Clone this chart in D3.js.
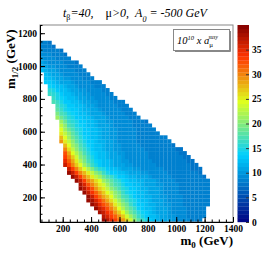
<!DOCTYPE html>
<html>
<head>
<meta charset="utf-8">
<script src="https://cdnjs.cloudflare.com/ajax/libs/d3/7.8.5/d3.min.js"></script>
<style>
  body { margin: 0; background: #fff; }
  svg { display: block; }
  text { font-family: "Liberation Serif", "Times New Roman", serif; white-space: pre; }
</style>
</head>
<body>
<div id="chart"></div>
<script>
// histogram binning: m0 on x, m1/2 on y
var m0Min = 40, m0Max = 1400, m0Bins = 50;
var m12Min = 50, m12Max = 1250, m12Bins = 50;
var zMax = 40, nLevels = 50;

var xTicks = [200, 400, 600, 800, 1000, 1200, 1400];
var yTicks = [200, 400, 600, 800, 1000, 1200];
var zTicks = [0, 5, 10, 15, 20, 25, 30, 35];

// first filled m0 bin of every m1/2 row (row 0 = lowest m1/2)
var rowFirstBin = [16, 16, 15, 14, 13, 12, 12, 11, 10, 10,
                   9, 8, 7, 7, 6, 6, 6, 6, 6, 6,
                   5, 5, 5, 5, 5, 5, 4, 4, 4, 4,
                   3, 3, 2, 2, 2, 1, 1, 1, 0, 0,
                   0, 0, 0, 0, 0, 0];

// 10^10 x a_mu^susy, row by row
var rowValues = [
  [39,37,35,33,31,29,26,23.5,20,18,16,14.5,13,12,11.5,11,11,10.5,10,9.5,9.5,9,9,8.5,8,8],
  [37.5,35.5,33.5,31.5,29,26.5,23.5,21,18.5,16.5,15,13.5,12.5,12,11.5,11,10.5,10,10,9.5,9,9,8.5,8.5,8,8,8],
  [38,36,34,32,29.5,27,24,21.5,19,17.5,15.5,14,13,12,11.5,11,11,10.5,10,9.5,9.5,9,9,8.5,8.5,8,8,8],
  [39,36.5,34.5,32,30,27.5,24.5,22,19.5,18,16,14,13.5,12.5,12,11.5,11,10.5,10.5,10,9.5,9.5,9,9,8.5,8.5,8,8,8],
  [39,37,35,32.5,30.5,28,25.5,23,20.5,18.5,16.5,15,13.5,13,12,11.5,11.5,11,10.5,10,10,9.5,9,9,8.5,8.5,8.5,8,8,8,8],
  [39,38,35.5,33,30.5,28.5,26,23.5,21,19,17,15.5,14.5,13,12.5,12,11.5,11,10.5,10.5,10,9.5,9.5,9,9,8.5,8.5,8.5,8,8,8,8],
  [38.5,36,33.5,31,28.5,26.5,24,21.5,19.5,17.5,16,14.5,13.5,12.5,12,11.5,11.5,11,10.5,10,10,9.5,9,9,9,8.5,8.5,8.5,8,8,8,8],
  [39,36.5,34,31.5,29,26.5,24.5,22.5,20,18.5,16.5,15,14,13,12.5,12,11.5,11,11,10.5,10,9.5,9.5,9,9,8.5,8.5,8.5,8,8,8,8,8],
  [39,37.5,34.5,32,29.5,27,25,23,20.5,19,17,15.5,14.5,13.5,13,12,11.5,11.5,11,10.5,10.5,10,9.5,9.5,9,9,8.5,8.5,8.5,8,8,8,8,8],
  [38,35.5,32.5,30,27.5,25.5,23.5,21,19,17.5,16,15,13.5,13,12.5,12,11.5,11,11,10.5,10,10,9.5,9,9,9,8.5,8.5,8.5,8,8,8,8,8],
  [39,36,33,30,28,26,24,21.5,19.5,18,16.5,15.5,14,13,12.5,12,11.5,11.5,11,10.5,10.5,10,9.5,9.5,9,9,8.5,8.5,8.5,8.5,8,8,8,8,8],
  [39,36,33,30,27.5,25.5,23,21,19,17.5,16,14.5,13.5,13,12,11.5,11.5,11,10.5,10.5,10,9.5,9.5,9,9,9,8.5,8.5,8.5,8.5,8,8,8,8,7.5],
  [39,36,33,30,27.5,25,22.5,20,18.5,16.5,15,13.5,13,12.5,12,11.5,11,10.5,10.5,10,10,9.5,9.5,9,9,9,8.5,8.5,8.5,8.5,8,8,8,8,7.5],
  [36,33,30,27,24.5,22,19.5,17.5,15.5,14.5,13,12.5,12,11.5,11,10.5,10.5,10,10,9.5,9.5,9,9,9,9,8.5,8.5,8.5,8.5,8,8,8,7.5,7.5,7.5],
  [36,33,30,27,24,21,18.5,16.5,15,13.5,12.5,12,11.5,11,11,10.5,10,10,9.5,9.5,9,9,9,9,8.5,8.5,8.5,8.5,8,8,8,8,8,7.5,7.5],
  [35,31.5,28.5,25,22,19.5,17.5,15.5,14,13,12.5,12,11.5,11,10.5,10,10,9.5,9.5,9,9,9,9,8.5,8.5,8.5,8.5,8,8,8,8,8,7.5,7.5],
  [33.5,30,26.5,23.5,20.5,18.5,16.5,15,13.5,12.5,12,11.5,11,10.5,10.5,10,9.5,9.5,9.5,9,9,9,8.5,8.5,8.5,8.5,8.5,8,8,8,8,7.5,7.5],
  [32,28,24.5,22,19.5,17.5,15.5,14,13,12.5,12,11.5,11,10.5,10,10,9.5,9.5,9,9,9,9,8.5,8.5,8.5,8.5,8,8,8,8,7.5,7.5],
  [30,26,23,20.5,18,16.5,15,13.5,12.5,12,11.5,11,10.5,10,10,9.5,9.5,9,9,9,9,8.5,8.5,8.5,8.5,8.5,8,8,8,7.5,7.5],
  [27.5,24,21.5,19.5,17.5,15.5,14,13,12.5,12,11.5,11,10.5,10,10,9.5,9.5,9,9,9,8.5,8.5,8.5,8.5,8,8,8,8,7.5],
  [29.5,25.5,23,20.5,18,16.5,15,13.5,13,12.5,11.5,11.5,11,10.5,10,9.5,9.5,9,9,9,8.5,8.5,8.5,8.5,8,8,8,8,8],
  [27.5,24,21.5,19,17,15.5,14,13.5,12.5,12,11.5,11,10.5,10,10,9.5,9.5,9,9,9,8.5,8.5,8.5,8,8,8,8,8],
  [25.5,22.5,20,18,16,15,13.5,13,12.5,12,11.5,11,10.5,10,10,9.5,9.5,9,9,9,8.5,8.5,8.5,8,8,8],
  [24,21.5,19,17,15.5,14.5,13.5,13,12.5,12,11.5,11,10.5,10,10,9.5,9.5,9,9,9,8.5,8.5,8,8,8],
  [22.5,20,17.5,16,15,14,13,12.5,12,11.5,11,11,10.5,10,9.5,9.5,9.5,9,9,8.5,8.5,8,8,8],
  [21,19,16.5,15.5,14.5,13.5,13,12.5,12,11.5,11,10.5,10,10,9.5,9.5,9.5,9,9,8.5,8.5,8,7.5],
  [21,19,17,15.5,14.5,13.5,13,12.5,12,11.5,11,10.5,10.5,10,9.5,9.5,9.5,9,9,8.5,8,8],
  [19.5,17.5,16,15,14,13,12.5,12,11.5,11,11,10.5,10,9.5,9.5,9.5,9,9,8.5,8,8],
  [18,16.5,15,14,13.5,13,12,11.5,11.5,11,10.5,10,9.5,9.5,9.5,9,9,8.5,8,8],
  [17,15.5,14.5,13.5,13,12.5,12,11.5,11,10.5,10,9.5,9.5,9.5,9,9,8.5,8,8],
  [17,16,15,13.5,13,12.5,12,11.5,11,10.5,10,10,9.5,9.5,9,9,8.5,8,8],
  [16,15,14,13,12.5,12,11.5,11,10.5,10,10,9.5,9.5,9,9,8.5,8],
  [16.5,15.5,14.5,13.5,12.5,12,11.5,11,10.5,10,10,9.5,9.5,9,9,8.5,8],
  [15.5,14.5,13.5,12.5,12,11.5,11,10.5,10,10,9.5,9.5,9,9,8.5,8],
  [14,13,12.5,12,11.5,11,10.5,10,9.5,9.5,9.5,9,8.5,8.5,8],
  [13.5,13,12.5,11.5,11,11,10.5,10,9.5,9.5,9,9,8.5,8,8],
  [12.5,12,11.5,11,10.5,10,10,9.5,9.5,9,8.5,8.5,8],
  [12,11.5,11,10.5,10,9.5,9.5,9,9,8.5,8.5,8],
  [12,11.5,11,10.5,10,9.5,9.5,9,9,8.5,8,8],
  [11,10.5,10,10,9.5,9,9,8.5,8.5,8,8],
  [10.5,10,9.5,9.5,9,9,8.5,8.5,8,7.5],
  [10,9.5,9,9,8.5,8.5,8,8],
  [9.5,9,9,8.5,8.5,8,7.5],
  [9,8.5,8.5,8,8,7.5],
  [8.5,8,8,7.5],
  [8,8,7.5]
];

var svgWidth = 266, svgHeight = 253;
var frame = { left: 40, right: 233, top: 25, bottom: 222 };
var bar = { left: 237.5, right: 249 };

var svg = d3.select("#chart").append("svg")
  .attr("width", svgWidth)
  .attr("height", svgHeight);

var x = d3.scaleLinear().domain([m0Min, m0Max]).range([frame.left, frame.right]);
var y = d3.scaleLinear().domain([m12Min, m12Max]).range([frame.bottom, frame.top]);
var z = d3.scaleLinear().domain([0, zMax]).range([frame.bottom, frame.top]);

// ROOT style gradient palette
var grad = d3.scaleLinear()
  .domain([0, 0.34, 0.61, 0.84, 1.0])
  .range(["rgb(0,0,130)", "rgb(0,207,255)", "rgb(222,255,31)", "rgb(255,51,0)", "rgb(130,0,0)"])
  .interpolate(d3.interpolateRgb);

function levelColor(v) {
  var k = Math.max(0, Math.min(nLevels - 1, Math.floor(v / zMax * nLevels)));
  return grad((k + 0.5) / nLevels);
}

var dx = (m0Max - m0Min) / m0Bins;
var dy = (m12Max - m12Min) / m12Bins;

var cells = [];
rowValues.forEach(function(row, j) {
  row.forEach(function(v, k) {
    var i = rowFirstBin[j] + k;
    cells.push({ m0: m0Min + i * dx, m12: m12Min + j * dy, v: v });
  });
});

svg.append("g").selectAll("rect")
  .data(cells)
  .enter()
  .append("rect")
  .attr("x", d => x(d.m0))
  .attr("y", d => y(d.m12 + dy))
  .attr("width", d => x(d.m0 + dx) - x(d.m0) + 0.15)
  .attr("height", d => y(d.m12) - y(d.m12 + dy) + 0.15)
  .attr("fill", d => levelColor(d.v));

// frame
svg.append("rect")
  .attr("x", frame.left).attr("y", frame.top)
  .attr("width", frame.right - frame.left).attr("height", frame.bottom - frame.top)
  .attr("fill", "none").attr("stroke", "#888").attr("stroke-width", 1);

// axes (ticks point inside the frame)
var xMinor = d3.range(50, 1401, 50);
var yMinor = d3.range(50, 1251, 50);
var fmt = d3.format("d");

svg.append("g")
  .attr("transform", `translate(0, ${frame.bottom})`)
  .call(d3.axisBottom(x).tickValues(xMinor).tickSize(-2.5).tickFormat(""))
  .call(g => g.select(".domain").remove());
var xAxis = svg.append("g")
  .attr("transform", `translate(0, ${frame.bottom})`)
  .call(d3.axisBottom(x).tickValues(xTicks).tickSize(-5).tickPadding(3).tickSizeOuter(0).tickFormat(fmt));

svg.append("g")
  .attr("transform", `translate(${frame.left}, 0)`)
  .call(d3.axisLeft(y).tickValues(yMinor).tickSize(-2.5).tickFormat(""))
  .call(g => g.select(".domain").remove());
var yAxis = svg.append("g")
  .attr("transform", `translate(${frame.left}, 0)`)
  .call(d3.axisLeft(y).tickValues(yTicks).tickSize(-5).tickPadding(3).tickSizeOuter(0).tickFormat(fmt));

[xAxis, yAxis].forEach(function(g) {
  g.selectAll("text")
    .attr("font-family", "Liberation Serif, serif")
    .attr("font-size", 9.5)
    .attr("font-weight", "bold")
    .attr("fill", "#000");
  g.selectAll("line").attr("stroke", "#000");
  g.select(".domain").attr("stroke", "#000");
});

// colour bar
var levels = d3.range(nLevels);
svg.append("g").selectAll("rect")
  .data(levels)
  .enter()
  .append("rect")
  .attr("x", bar.left)
  .attr("y", k => z((k + 1) * zMax / nLevels))
  .attr("width", bar.right - bar.left)
  .attr("height", k => z(k * zMax / nLevels) - z((k + 1) * zMax / nLevels) + 0.2)
  .attr("fill", k => grad((k + 0.5) / nLevels));

var zAxis = svg.append("g")
  .attr("transform", `translate(${bar.right}, 0)`)
  .call(d3.axisRight(z).tickValues(zTicks).tickSize(-3).tickPadding(3).tickSizeOuter(0));
zAxis.select(".domain").remove();
zAxis.selectAll("line").attr("stroke", "#333");
zAxis.selectAll("text")
  .attr("font-family", "Liberation Serif, serif")
  .attr("font-size", 9.5)
  .attr("font-weight", "bold")
  .attr("fill", "#000");

// title
var title = svg.append("text")
  .attr("x", 63)
  .attr("y", 17)
  .attr("font-size", 12)
  .attr("font-style", "italic");
title.append("tspan").text("t");
title.append("tspan").attr("font-size", 8).attr("dy", 2.5).attr("font-style", "normal").text("β");
title.append("tspan").attr("dy", -2.5).text("=40,    ");
title.append("tspan").attr("font-style", "normal").text("μ");
title.append("tspan").text(">0,  A");
title.append("tspan").attr("font-size", 8).attr("dy", 4.5).text("0");
title.append("tspan").attr("dy", -4.5).text(" = -500 GeV");

// legend box
svg.append("rect")
  .attr("x", 173.5).attr("y", 29.5)
  .attr("width", 56).attr("height", 21)
  .attr("fill", "#fff").attr("stroke", "#888").attr("stroke-width", 1);
svg.append("path")
  .attr("d", "M175,51.5 H230.5 V31")
  .attr("fill", "none").attr("stroke", "#888").attr("stroke-width", 1);
var leg = svg.append("text")
  .attr("x", 177)
  .attr("y", 43.5)
  .attr("font-size", 10.5)
  .attr("font-style", "italic");
leg.append("tspan").text("10");
leg.append("tspan").attr("font-size", 6.5).attr("dy", -4).text("10");
leg.append("tspan").attr("dy", 4).text(" x a");
leg.append("tspan").attr("font-size", 7).attr("font-style", "normal").attr("dy", 3).text("μ");
leg.append("tspan").attr("font-size", 5.5).attr("dx", -4.5).attr("dy", -8).text("susy");

// axis titles
var xTitle = svg.append("text")
  .attr("x", 233)
  .attr("y", 245)
  .attr("text-anchor", "end")
  .attr("font-size", 13)
  .attr("font-weight", "bold");
xTitle.append("tspan").text("m");
xTitle.append("tspan").attr("font-size", 9).attr("dy", 3).text("0");
xTitle.append("tspan").attr("dy", -3).text(" (GeV)");

var yTitle = svg.append("text")
  .attr("transform", "translate(15, 89) rotate(-90)")
  .attr("font-size", 13)
  .attr("font-weight", "bold");
yTitle.append("tspan").text("m");
yTitle.append("tspan").attr("font-size", 9).attr("dy", 3).text("1/2");
yTitle.append("tspan").attr("dy", -3).text(" (GeV)");
</script>
</body>
</html>
